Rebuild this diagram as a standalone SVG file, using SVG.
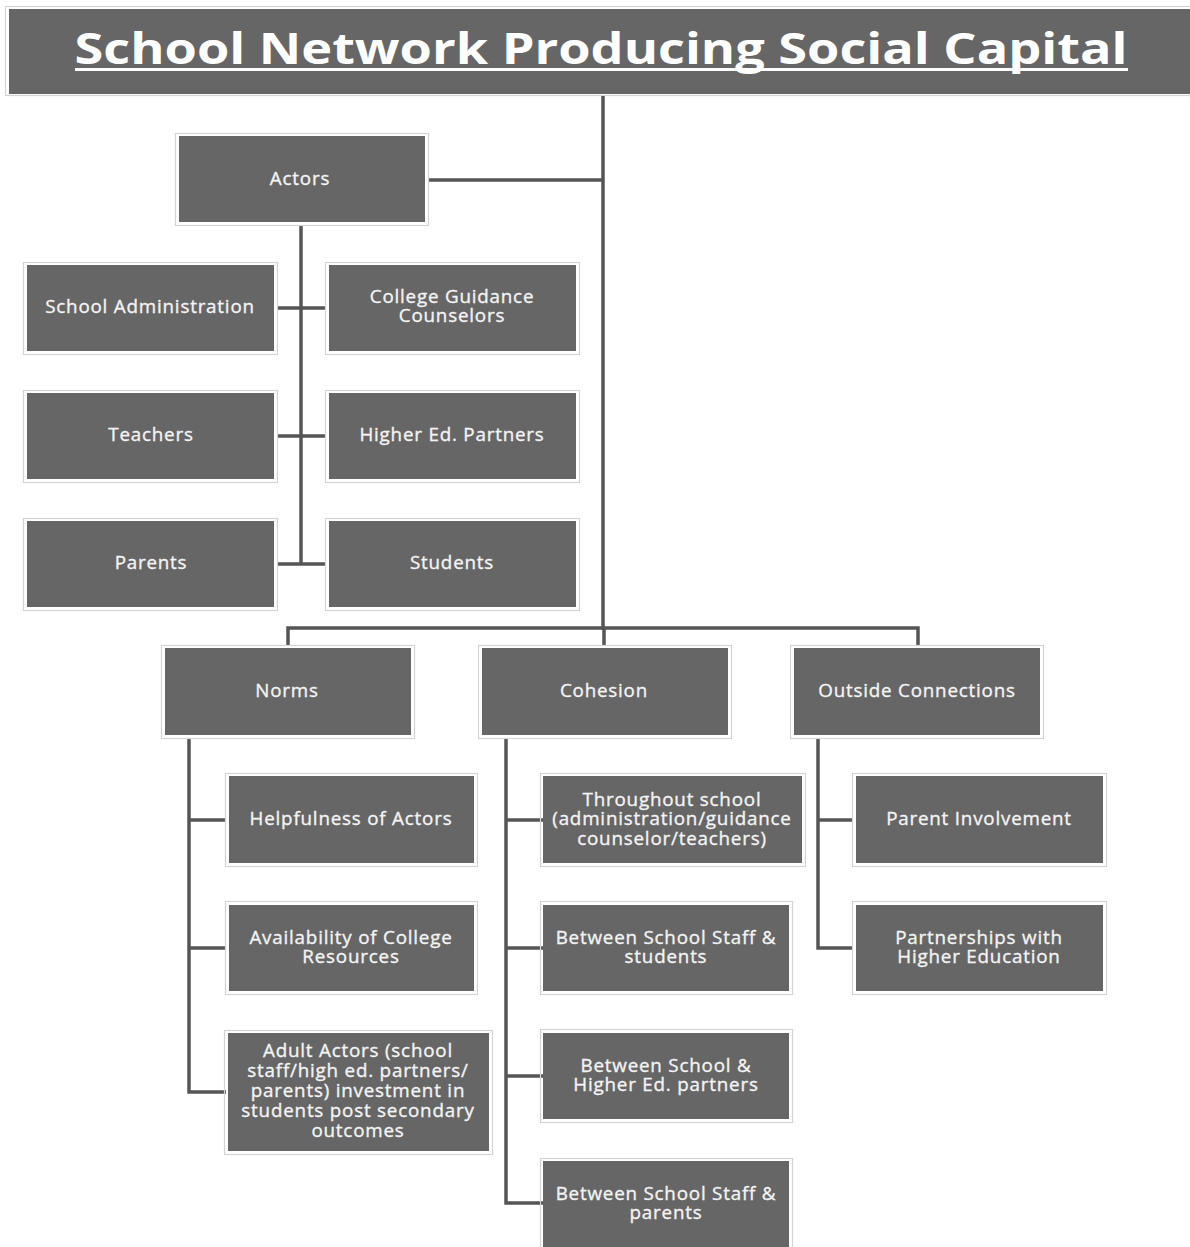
<svg xmlns="http://www.w3.org/2000/svg" width="1190" height="1247" viewBox="0 0 1190 1247">
<defs>
<style>
.o{fill:none;stroke:#d4d4d4;stroke-width:1.2}
.f{fill:#666666}
.t{font-family:"Open Sans","Liberation Sans",sans-serif;font-size:18.8px;letter-spacing:0.8px;fill:#f4f4f4;stroke:#f4f4f4;stroke-width:0.35;text-anchor:middle}
.c{fill:none;stroke:#555555;stroke-width:3.5}
</style>
</defs>
<rect width="1190" height="1247" fill="#ffffff"/>
<g id="title">
<rect class="o" x="5.5" y="6.5" width="1190" height="89"/>
<rect class="f" x="9" y="9" width="1181" height="85"/>
<text x="601" y="64" font-family="'Open Sans','Liberation Sans',sans-serif" font-weight="bold" font-size="43" fill="#ffffff" text-anchor="middle" textLength="1053" lengthAdjust="spacingAndGlyphs">School Network Producing Social Capital</text>
<rect x="75" y="68" width="1053" height="3" fill="#ffffff"/>
</g>
<g id="connectors">
<path class="c" d="M603 96V630M428 180H603M301 225V564M277 308H325M277 436H325M277 564H325M288 646V628H918V646M604 628V646"/>
<path class="c" d="M189 738V1092H226M189 820H226M189 948H226"/>
<path class="c" d="M506 738V1203H543M506 820H543M506 948H543M506 1076H543"/>
<path class="c" d="M818 738V948H853M818 820H853"/>
</g>
<g id="actors"><rect class="o" x="175.5" y="133.5" width="253" height="92"/><rect class="f" x="179" y="136" width="246" height="86"/><text class="t" x="300" y="185">Actors</text></g>
<g id="school-admin"><rect class="o" x="23.5" y="262.5" width="254" height="92"/><rect class="f" x="27" y="265" width="247" height="86"/><text class="t" x="150" y="313">School Administration</text></g>
<g id="college-guidance"><rect class="o" x="325.5" y="262.5" width="254" height="92"/><rect class="f" x="329" y="265" width="247" height="86"/><text class="t" x="452" y="303">College Guidance<tspan x="452" dy="19">Counselors</tspan></text></g>
<g id="teachers"><rect class="o" x="23.5" y="390.5" width="254" height="92"/><rect class="f" x="27" y="393" width="247" height="86"/><text class="t" x="151" y="441">Teachers</text></g>
<g id="higher-ed-partners"><rect class="o" x="325.5" y="390.5" width="254" height="92"/><rect class="f" x="329" y="393" width="247" height="86"/><text class="t" x="452" y="441">Higher Ed. Partners</text></g>
<g id="parents"><rect class="o" x="23.5" y="518.5" width="254" height="92"/><rect class="f" x="27" y="521" width="247" height="86"/><text class="t" x="151" y="569">Parents</text></g>
<g id="students"><rect class="o" x="325.5" y="518.5" width="254" height="92"/><rect class="f" x="329" y="521" width="247" height="86"/><text class="t" x="452" y="569">Students</text></g>
<g id="norms"><rect class="o" x="161.5" y="645.5" width="253" height="93"/><rect class="f" x="165" y="648" width="246" height="87"/><text class="t" x="287" y="697">Norms</text></g>
<g id="cohesion"><rect class="o" x="478.5" y="645.5" width="253" height="93"/><rect class="f" x="482" y="648" width="246" height="87"/><text class="t" x="604" y="697">Cohesion</text></g>
<g id="outside-connections"><rect class="o" x="790.5" y="645.5" width="253" height="93"/><rect class="f" x="794" y="648" width="246" height="87"/><text class="t" x="917" y="697">Outside Connections</text></g>
<g id="helpfulness"><rect class="o" x="225.5" y="773.5" width="252" height="93"/><rect class="f" x="229" y="776" width="245" height="87"/><text class="t" x="351" y="825">Helpfulness of Actors</text></g>
<g id="availability"><rect class="o" x="225.5" y="901.5" width="252" height="93"/><rect class="f" x="229" y="905" width="245" height="86"/><text class="t" x="351" y="944">Availability of College<tspan x="351" dy="19">Resources</tspan></text></g>
<g id="adult-actors"><rect class="o" x="224.5" y="1030.5" width="268" height="124"/><rect class="f" x="228" y="1033" width="261" height="118"/><text class="t" x="358" y="1057">Adult Actors (school<tspan x="358" dy="20">staff/high ed. partners/</tspan><tspan x="358" dy="20">parents) investment in</tspan><tspan x="358" dy="20">students post secondary</tspan><tspan x="358" dy="20">outcomes</tspan></text></g>
<g id="throughout-school"><rect class="o" x="540.5" y="773.5" width="265" height="93"/><rect class="f" x="543" y="776" width="259" height="87"/><text class="t" x="672" y="806">Throughout school<tspan x="672" dy="19">(administration/guidance</tspan><tspan x="672" dy="20">counselor/teachers)</tspan></text></g>
<g id="staff-students"><rect class="o" x="540.5" y="901.5" width="252" height="93"/><rect class="f" x="543" y="905" width="246" height="86"/><text class="t" x="666" y="944">Between School Staff &amp;<tspan x="666" dy="19">students</tspan></text></g>
<g id="school-highered"><rect class="o" x="540.5" y="1029.5" width="252" height="93"/><rect class="f" x="543" y="1033" width="246" height="86"/><text class="t" x="666" y="1072">Between School &amp;<tspan x="666" dy="19">Higher Ed. partners</tspan></text></g>
<g id="staff-parents"><rect class="o" x="540.5" y="1158.5" width="252" height="100"/><rect class="f" x="543" y="1161" width="246" height="90"/><text class="t" x="666" y="1200">Between School Staff &amp;<tspan x="666" dy="19">parents</tspan></text></g>
<g id="parent-involvement"><rect class="o" x="852.5" y="773.5" width="254" height="93"/><rect class="f" x="856" y="776" width="247" height="87"/><text class="t" x="979" y="825">Parent Involvement</text></g>
<g id="partnerships"><rect class="o" x="852.5" y="901.5" width="254" height="93"/><rect class="f" x="856" y="905" width="247" height="86"/><text class="t" x="979" y="944">Partnerships with<tspan x="979" dy="19">Higher Education</tspan></text></g>
</svg>
